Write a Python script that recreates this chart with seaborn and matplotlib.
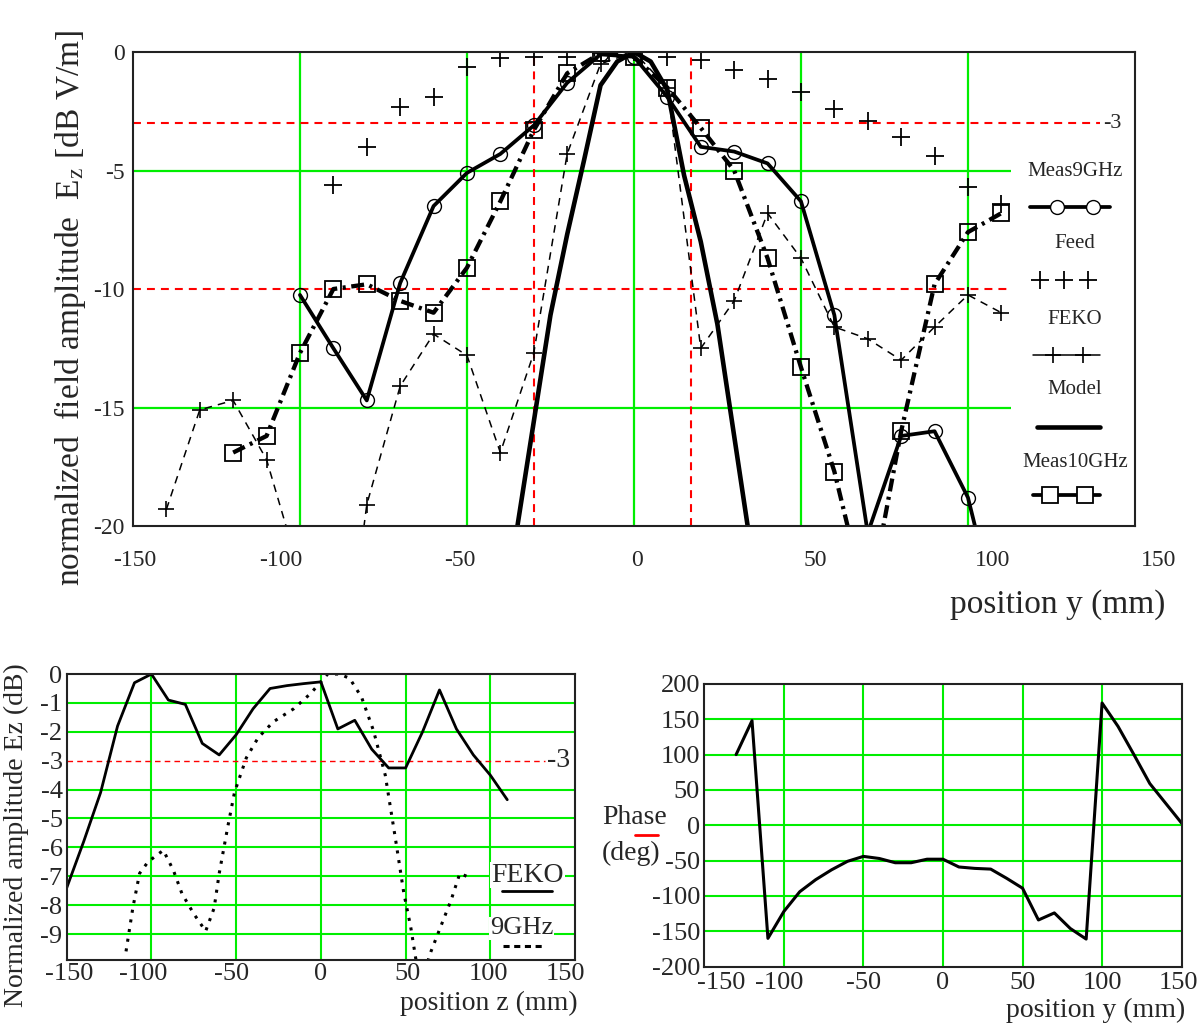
import matplotlib
matplotlib.use("Agg")
import matplotlib.pyplot as plt
import matplotlib.transforms as mtrans
import seaborn as sns

# ---- top chart: normalized field amplitude vs position y ----
meas9_y = [-100, -90, -80, -70, -60, -50, -40, -30, -20, -10, 0, 10, 20, 30, 40, 50, 60, 70, 80, 90, 100, 110]
meas9_db = [-10.25, -12.5, -14.7, -9.75, -6.5, -5.1, -4.3, -3.1, -1.3, -0.1, -0.2, -1.9, -4.0, -4.2, -4.7, -6.3,
            -11.1, -20.3, -16.2, -16.0, -18.8, -24.5]

feed_y = [-90, -80, -70, -60, -50, -40, -30, -20, -10, 0, 10, 20, 30, 40, 50, 60, 70, 80, 90, 100, 110]
feed_db = [-5.6, -4.0, -2.3, -1.9, -0.65, -0.25, -0.2, -0.2, -0.05, 0.0, -0.2, -0.35, -0.75, -1.15, -1.7, -2.4,
           -2.9, -3.6, -4.4, -5.7, -6.4]

feko_y = [-140, -130, -120, -110, -100, -90, -80, -70, -60, -50, -40, -30, -20, -10, 0, 10, 20, 30, 40, 50, 60,
          70, 80, 90, 100, 110]
feko_db = [-19.3, -15.1, -14.7, -17.2, -22.0, -30.0, -19.1, -14.1, -11.9, -12.8, -16.9, -12.7, -4.3, -0.5, 0.0,
           -1.5, -12.5, -10.5, -6.8, -8.7, -11.6, -12.1, -13.0, -11.6, -10.25, -11.0]

model_y = [-36, -30, -25, -20, -15, -10, -5, 0, 5, 10, 15, 20, 25, 30, 35]
model_db = [-21.0, -15.6, -11.1, -7.7, -4.6, -1.4, -0.4, 0.0, -0.4, -1.6, -5.2, -8.0, -11.5, -16.2, -20.9]

meas10_y = [-120, -110, -100, -90, -80, -70, -60, -50, -40, -30, -20, -10, 0, 10, 20, 30, 40, 50, 60, 70, 80,
            90, 100, 110]
meas10_db = [-16.9, -16.2, -12.7, -10.0, -9.8, -10.5, -11.0, -9.1, -6.3, -3.3, -0.9, -0.05, -0.2, -1.5, -3.2,
             -5.0, -8.7, -13.3, -17.7, -23.5, -16.0, -9.8, -7.6, -6.8]

# ---- bottom left: normalized amplitude vs position z ----
fekoz_z = [-150, -140, -130, -120, -110, -100, -90, -80, -70, -60, -50, -40, -30, -20, -10, 0, 10, 20, 30, 40,
           50, 60, 70, 80, 90, 100, 110]
fekoz_db = [-7.4, -5.8, -4.1, -1.8, -0.3, 0.0, -0.9, -1.05, -2.4, -2.8, -2.1, -1.2, -0.5, -0.4, -0.33, -0.27,
            -1.9, -1.6, -2.6, -3.25, -3.25, -2.0, -0.55, -1.9, -2.8, -3.5, -4.35]

ghz9_z = [-115, -111, -107, -102, -93, -87, -82, -75, -68, -63, -60, -55, -51, -44, -37, -28, -16, -6, 4, 11,
          17, 24, 31, 38, 44, 49, 53, 56, 60, 65, 70, 77, 82, 88]
ghz9_db = [-9.6, -8.1, -6.9, -6.5, -6.1, -6.8, -7.6, -8.3, -8.9, -8.1, -6.9, -5.3, -4.1, -2.9, -2.2, -1.65,
           -1.2, -0.67, 0.0, 0.0, -0.15, -0.8, -1.95, -3.5, -5.7, -7.6, -8.75, -9.85, -10.5, -9.6, -8.85, -7.8,
           -6.9, -7.05]

# ---- bottom right: phase vs position y ----
phase_y = [-130, -120, -110, -100, -90, -80, -70, -60, -50, -40, -30, -20, -10, 0, 10, 20, 30, 40, 50, 60, 70,
           80, 90, 100, 110, 120, 130, 140, 150]
phase_deg = [100, 148, -160, -122, -94, -77, -63, -51, -44, -47, -53, -53, -48, -48, -59, -61, -62, -75, -89,
             -134, -124, -146, -161, 173, 140, 100, 59, 31, 3]

sns.set_style("white")
plt.rcParams['font.family'] = ['Liberation Serif', 'DejaVu Serif']
plt.rcParams['mathtext.fontset'] = 'stix'
plt.rcParams['axes.unicode_minus'] = False

GREEN = '#00ee00'
RED = '#ff0000'

fig = plt.figure(figsize=(12, 10.28), dpi=100)


def frame(ax):
    for s in ax.spines.values():
        s.set_color('#222222')
        s.set_linewidth(1.5)
        s.set_zorder(6)
    ax.tick_params(length=0)


def shift_label(label, dx_px):
    label.set_transform(label.get_transform() + mtrans.ScaledTranslation(dx_px / 100, 0, fig.dpi_scale_trans))


# ================= top chart =================
ax = fig.add_axes([0.1108, 0.4883, 0.835, 0.4611])
for v in [-100, -50, 0, 50, 100]:
    ax.axvline(v, color=GREEN, lw=1.6, zorder=1)
for h in [-5, -15]:
    ax.axhline(h, color=GREEN, lw=1.6, zorder=1)
red_ls = (0, (3.8, 2.9))
ax.axhline(-3, xmax=0.965, color=RED, lw=1.5, ls=red_ls, zorder=1.2)
ax.axhline(-10, color=RED, lw=1.5, ls=red_ls, zorder=1.2)
ax.axvline(-30, color=RED, lw=1.5, ls=red_ls, zorder=1.2)
ax.axvline(17, color=RED, lw=1.5, ls=red_ls, zorder=1.2)
ax.text(0.968, -3, '-3', transform=ax.get_yaxis_transform(), fontsize=16, va='center', ha='left')

# white area behind the legend
ax.add_patch(plt.Rectangle((0.876, 0.003), 0.126, 0.792, transform=ax.transAxes, facecolor='white',
                           edgecolor='none', zorder=1.5))

sns.lineplot(x=model_y, y=model_db, ax=ax, color='k', linewidth=3.3, zorder=3)
sns.lineplot(x=feko_y, y=feko_db, ax=ax, color='k', linewidth=1.1, linestyle=(0, (5, 4)), marker='+',
             markersize=11, markeredgewidth=1.2, markeredgecolor='k', zorder=3)
sns.scatterplot(x=feed_y, y=feed_db, ax=ax, marker='+', s=170, color='k', linewidth=1.3, zorder=3)
sns.lineplot(x=meas9_y, y=meas9_db, ax=ax, color='k', linewidth=2.7, marker='o', markersize=10,
             markerfacecolor='none', markeredgecolor='k', markeredgewidth=1.0, zorder=4)
sns.lineplot(x=meas10_y, y=meas10_db, ax=ax, color='k', linewidth=3.1, linestyle=(0, (3, 1.3, 0.7, 1.3)),
             marker='s', markersize=12, markerfacecolor='none', markeredgecolor='k', markeredgewidth=1.3,
             zorder=4)

ax.set_xlim(-150, 150)
ax.set_ylim(-20, 0)
ax.set_xticks([-150, -100, -50, 0, 50, 100, 150])
ax.set_yticks([0, -5, -10, -15, -20])
ax.set_xlabel('')
ax.set_ylabel('')
frame(ax)
ax.tick_params(axis='x', labelsize=17, pad=17)
ax.tick_params(axis='y', labelsize=17, pad=6)
# Mathcad spreads the x labels a little unevenly
for lab, dx in zip(ax.get_xticklabels(), [2, -19, -7, 3, 14, 25, 24]):
    shift_label(lab, dx)

# legend drawn Mathcad-style (label above sample)
tr = ax.transAxes
leg_fs = 15
ax.text(0.940, 0.747, 'Meas9GHz', transform=tr, fontsize=leg_fs, ha='center', va='center', zorder=5)
ax.plot([0.895, 0.975], [0.673, 0.673], transform=tr, color='k', lw=2.7, zorder=5, clip_on=False)
ax.plot([0.922, 0.958], [0.673, 0.673], transform=tr, ls='none', marker='o', ms=10, mfc='white',
        mec='k', mew=1.0, zorder=6, clip_on=False)
ax.text(0.940, 0.597, 'Feed', transform=tr, fontsize=leg_fs, ha='center', va='center', zorder=5)
ax.plot([0.905, 0.929, 0.953], [0.519] * 3, transform=tr, ls='none', marker='+', ms=13, mew=1.3,
        color='k', zorder=5, clip_on=False)
ax.text(0.940, 0.435, 'FEKO', transform=tr, fontsize=leg_fs, ha='center', va='center', zorder=5)
ax.plot([0.898, 0.965], [0.361, 0.361], transform=tr, color='k', lw=1.1, zorder=5, clip_on=False)
ax.plot([0.918, 0.948], [0.361, 0.361], transform=tr, ls='none', marker='+', ms=11, mew=1.2, color='k',
        zorder=5, clip_on=False)
ax.text(0.940, 0.287, 'Model', transform=tr, fontsize=leg_fs, ha='center', va='center', zorder=5)
ax.plot([0.902, 0.965], [0.209, 0.209], transform=tr, color='k', lw=3.3, zorder=5, clip_on=False)
ax.text(0.940, 0.133, 'Meas10GHz', transform=tr, fontsize=leg_fs, ha='center', va='center', zorder=5)
ax.plot([0.898, 0.965], [0.065, 0.065], transform=tr, color='k', lw=2.7, zorder=5, clip_on=False)
ax.plot([0.915, 0.950], [0.065, 0.065], transform=tr, ls='none', marker='s', ms=12, mfc='white', mec='k',
        mew=1.3, zorder=6, clip_on=False)

fig.text(0.058, 0.700, r'normalized  field amplitude  E$_{\rm z}$ [dB V/m]', rotation=90, fontsize=24,
         ha='center', va='center')
fig.text(0.971, 0.4115, 'position y (mm)', fontsize=24, ha='right', va='center')

# ================= bottom left =================
ax2 = fig.add_axes([0.0556, 0.0661, 0.4236, 0.2782])
for v in [-100, -50, 0, 50, 100]:
    ax2.axvline(v, color=GREEN, lw=1.5, zorder=1)
for h in [-1, -2, -4, -5, -6, -7, -8, -9]:
    ax2.axhline(h, color=GREEN, lw=1.5, zorder=1)
ax2.axhline(-3, xmax=0.94, color=RED, lw=1.0, ls=(0, (4, 3)), zorder=1.2)
ax2.text(0.945, -3, '-3', transform=ax2.get_yaxis_transform(), fontsize=20, va='center', ha='left')

sns.lineplot(x=fekoz_z, y=fekoz_db, ax=ax2, color='k', linewidth=2.0, zorder=3)
sns.lineplot(x=ghz9_z, y=ghz9_db, ax=ax2, color='k', linewidth=2.2, linestyle=(0, (1, 2.2)), zorder=3)

ax2.set_xlim(-150, 150)
ax2.set_ylim(-9.9, 0)
ax2.set_xticks([-150, -100, -50, 0, 50, 100, 150])
ax2.set_yticks([0, -1, -2, -3, -4, -5, -6, -7, -8, -9])
ax2.set_xlabel('')
ax2.set_ylabel('')
frame(ax2)
ax2.tick_params(axis='x', labelsize=19, pad=2)
ax2.tick_params(axis='y', labelsize=19, pad=3)
for lab, dx in zip(ax2.get_xticklabels(), [2, -8, -5, 0, 2, -2, -10]):
    shift_label(lab, dx)

t2 = ax2.transAxes
ax2.text(0.835, 0.297, 'FEKO', transform=t2, fontsize=20, ha='left', va='center', zorder=5,
         bbox=dict(facecolor='white', edgecolor='none', pad=0.5))
ax2.plot([0.856, 0.955], [0.241, 0.241], transform=t2, color='k', lw=2.0, zorder=5)
ax2.text(0.833, 0.111, '9GHz', transform=t2, fontsize=19, ha='left', va='center', zorder=5,
         bbox=dict(facecolor='white', edgecolor='none', pad=0.5))
ax2.plot([0.858, 0.938], [0.049, 0.049], transform=t2, color='k', lw=2.2, ls=(0, (2, 1.5)), zorder=5)

fig.text(0.014, 0.188, 'Normalized amplitude Ez (dB)', rotation=90, fontsize=20, ha='center', va='center')
fig.text(0.4817, 0.0243, 'position z (mm)', fontsize=20, ha='right', va='center')

# ================= bottom right =================
ax3 = fig.add_axes([0.5869, 0.0597, 0.3978, 0.2750])
for v in [-100, -50, 0, 50, 100]:
    ax3.axvline(v, color=GREEN, lw=1.5, zorder=1)
for h in [150, 100, 50, 0, -50, -100, -150]:
    ax3.axhline(h, color=GREEN, lw=1.5, zorder=1)

sns.lineplot(x=phase_y, y=phase_deg, ax=ax3, color='k', linewidth=2.2, zorder=3)

ax3.set_xlim(-150, 150)
ax3.set_ylim(-200, 200)
ax3.set_xticks([-150, -100, -50, 0, 50, 100, 150])
ax3.set_yticks([200, 150, 100, 50, 0, -50, -100, -150, -200])
ax3.set_xlabel('')
ax3.set_ylabel('')
frame(ax3)
ax3.tick_params(axis='x', labelsize=19, pad=4)
ax3.tick_params(axis='y', labelsize=19, pad=3)
for lab, dx in zip(ax3.get_xticklabels(), [17, -5, 0, 0, 0, 0, -3]):
    shift_label(lab, dx)

fig.text(0.5017, 0.2043, 'Phase', fontsize=20, ha='left', va='center')
fig.text(0.5017, 0.1702, '(deg)', fontsize=20, ha='left', va='center')
fig.add_artist(plt.Line2D([635 / 1200, 658 / 1200], [0.1877, 0.1877], color=RED, lw=2))
fig.text(0.9875, 0.0175, 'position y (mm)', fontsize=20, ha='right', va='center')

fig.savefig('out.png', dpi=100)
